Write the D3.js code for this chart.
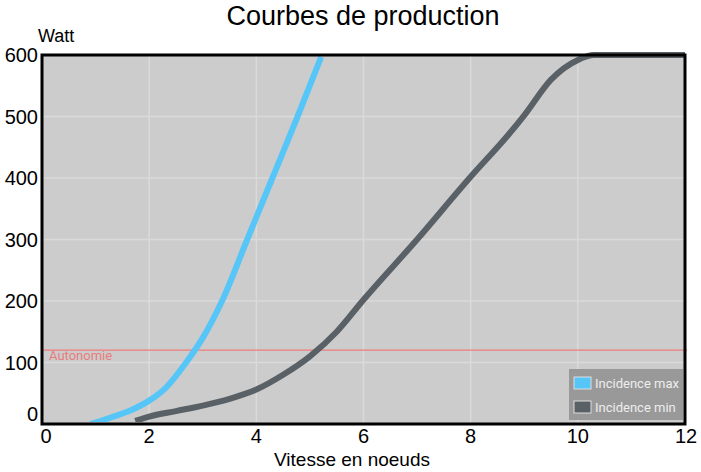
<!DOCTYPE html>
<html><head><meta charset="utf-8">
<script src="https://cdn.jsdelivr.net/npm/d3@7"></script>
<style>body{margin:0;background:#fff;font-family:"Liberation Sans",Arial,sans-serif}</style>
</head><body>
<svg id="c" width="701" height="472"></svg>
<script>
const xTicks = [0, 2, 4, 6, 8, 10, 12];
const yTicks = [0, 100, 200, 300, 400, 500, 600];
const maxX = [0.9, 1.3, 1.7, 2.0, 2.3, 2.69, 3.0, 3.36, 3.83, 4.3, 4.77, 5.21];
const maxY = [0, 11, 24, 38, 58, 100, 140, 200, 300, 400, 500, 597];
const minX = [1.74, 2.0, 2.5, 3.0, 3.5, 4.0, 4.5, 5.0, 5.5, 6.0, 7.0, 8.0, 8.7, 9.0, 9.5, 10.0, 10.3, 11, 12];
const minY = [5, 12, 21, 30, 41, 56, 80, 110, 150, 202, 300, 402, 470, 502, 560, 592, 600, 600, 600];
const autonomie = 120;
const seriesNames = ["Incidence max", "Incidence min"];
const seriesColors = ["#56c5f8", "#596066"];

const svg = d3.select("#c");
const L = 42, R = 685, T = 55, B = 424;
const x = d3.scaleLinear().domain([0, 12]).range([L, R]);
const y = d3.scaleLinear().domain([0, 600]).range([B, T]);

svg.append("text").attr("x", 363).attr("y", 25).attr("text-anchor", "middle")
  .attr("font-size", 27).text("Courbes de production");

svg.append("rect").attr("x", L).attr("y", T).attr("width", R - L).attr("height", B - T).attr("fill", "#cccccc");

// grid
svg.append("g").selectAll("line").data(xTicks.slice(1, -1)).join("line")
  .attr("x1", d => x(d)).attr("x2", d => x(d)).attr("y1", T).attr("y2", B)
  .attr("stroke", "#dadada").attr("stroke-width", 1.5);
svg.append("g").selectAll("line").data(yTicks.slice(1, -1)).join("line")
  .attr("y1", d => y(d)).attr("y2", d => y(d)).attr("x1", L).attr("x2", R)
  .attr("stroke", "#dadada").attr("stroke-width", 1.5);

// autonomie
svg.append("line").attr("x1", L).attr("x2", R + 2).attr("y1", y(autonomie)).attr("y2", y(autonomie))
  .attr("stroke", "#f07a7a").attr("stroke-width", 1.2);
svg.append("text").attr("x", L + 7).attr("y", y(autonomie) + 10).attr("font-size", 13)
  .attr("fill", "#e87c7c").attr("font-family", "Roboto, sans-serif").text("Autonomie");

const line = d3.line().x(d => x(d[0])).y(d => y(d[1])).curve(d3.curveMonotoneX);
svg.append("clipPath").attr("id", "clip").append("rect")
  .attr("x", L).attr("y", T - 4).attr("width", R - L).attr("height", B - T + 2);
const g = svg.append("g").attr("clip-path", "url(#clip)");
g.append("path").datum(minX.map((v, i) => [v, minY[i]])).attr("d", line)
  .attr("fill", "none").attr("stroke", seriesColors[1]).attr("stroke-width", 6);
g.append("path").datum(maxX.map((v, i) => [v, maxY[i]])).attr("d", line)
  .attr("fill", "none").attr("stroke", seriesColors[0]).attr("stroke-width", 6);

// border
svg.append("rect").attr("x", L).attr("y", T).attr("width", R - L).attr("height", B - T)
  .attr("fill", "none").attr("stroke", "#000").attr("stroke-width", 3);

// axes labels
svg.append("g").selectAll("text").data(yTicks).join("text")
  .attr("x", 38).attr("y", d => (d === 0 ? y(d) - 10 : y(d)) + 7)
  .attr("text-anchor", "end").attr("font-size", 20).text(d => d);
svg.append("g").selectAll("text").data(xTicks).join("text")
  .attr("x", d => x(d) + (d === 0 ? 4 : d === 12 ? 1 : 0)).attr("y", 443)
  .attr("text-anchor", "middle").attr("font-size", 20).text(d => d);
svg.append("text").attr("x", 38).attr("y", 42).attr("font-size", 18).text("Watt");
svg.append("text").attr("x", 352).attr("y", 466).attr("text-anchor", "middle")
  .attr("font-size", 19).text("Vitesse en noeuds");

// legend
const lg = svg.append("g");
lg.append("rect").attr("x", 569).attr("y", 369).attr("width", 114).attr("height", 51)
  .attr("fill", "#999999");
seriesNames.forEach((n, i) => {
  const yy = 377 + i * 24;
  lg.append("rect").attr("x", 574).attr("y", yy).attr("width", 17).attr("height", 12)
    .attr("fill", seriesColors[i]).attr("stroke", "#dddddd").attr("stroke-width", 1);
  lg.append("text").attr("x", 595).attr("y", yy + 11).attr("font-size", 13)
    .attr("font-family", "Roboto, sans-serif").attr("fill", "#eeeeee").text(n);
});
</script>
</body></html>
